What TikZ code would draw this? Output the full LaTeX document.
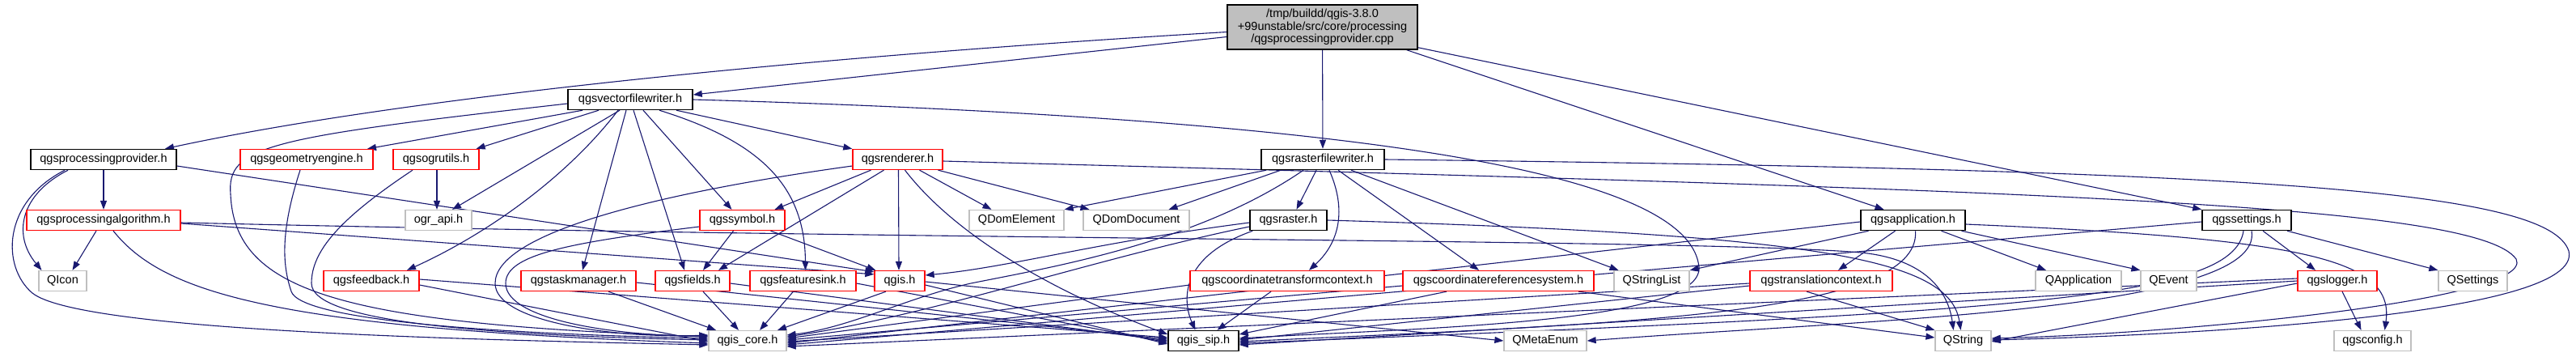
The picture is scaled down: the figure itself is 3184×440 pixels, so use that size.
\documentclass[tikz,border=0pt]{standalone}
\usepackage{fontspec}
\setmainfont{Liberation Sans}
\usetikzlibrary{arrows.meta}
\definecolor{Edge}{HTML}{191970}
\definecolor{DoxRed}{HTML}{FF0000}
\definecolor{DoxGray}{HTML}{BFBFBF}
\newcommand{\graphfont}{\fontsize{14.5pt}{15.5pt}\selectfont}
\pgfdeclarelayer{bg}
\pgfsetlayers{bg,main}
\tikzset{
  header/.style={
    draw=black, line width=1.5pt, fill=white, inner sep=0pt,
    minimum height=25pt, font=\graphfont
  },
  trunc/.style={header, draw=DoxRed, line width=1.3pt},
  system/.style={header, draw=DoxGray, line width=1.3pt},
  srcfile/.style={header, fill=DoxGray, align=center, minimum height=55pt},
  incl/.style={-{Triangle[length=11pt,width=8pt]}, line width=1.1pt, draw=Edge}
}

\begin{document}
\begin{tikzpicture}[x=1pt,y=-1pt]
    \useasboundingbox (0,0) rectangle (3184,440);
    \node[srcfile, minimum width=235pt] (cpp) at (1634.5,33.5) {/tmp/buildd/qgis-3.8.0\\+99unstable/src/core/processing\\/qgsprocessingprovider.cpp};
    \node[header, minimum width=154pt] (vfw) at (779,123) {qgsvectorfilewriter.h};
    \node[header, minimum width=180pt] (provider) at (128,197) {qgsprocessingprovider.h};
    \node[trunc, minimum width=164pt] (geom) at (379,197) {qgsgeometryengine.h};
    \node[trunc, minimum width=106pt] (ogru) at (539,197) {qgsogrutils.h};
    \node[trunc, minimum width=111pt] (rend) at (1109.5,197) {qgsrenderer.h};
    \node[header, minimum width=152pt] (rfw) at (1635,197) {qgsrasterfilewriter.h};
    \node[trunc, minimum width=190pt] (palg) at (128,272) {qgsprocessingalgorithm.h};
    \node[system, minimum width=82pt] (ograpi) at (542,272) {ogr\_api.h};
    \node[trunc, minimum width=105pt] (symb) at (917.5,272) {qgssymbol.h};
    \node[system, minimum width=117pt] (qdomel) at (1256.5,272) {QDomElement};
    \node[system, minimum width=131pt] (qdomdoc) at (1404.5,272) {QDomDocument};
    \node[header, minimum width=95pt] (rast) at (1592.5,272) {qgsraster.h};
    \node[header, minimum width=129pt] (app) at (2364.5,272) {qgsapplication.h};
    \node[header, minimum width=110pt] (sett) at (2777,272) {qgssettings.h};
    \node[system, minimum width=59pt] (qicon) at (77.5,347) {QIcon};
    \node[trunc, minimum width=118pt] (feed) at (459,347) {qgsfeedback.h};
    \node[trunc, minimum width=142pt] (task) at (715,347) {qgstaskmanager.h};
    \node[trunc, minimum width=92pt] (fld) at (856,347) {qgsfields.h};
    \node[trunc, minimum width=131pt] (fsink) at (992.5,347) {qgsfeaturesink.h};
    \node[trunc, minimum width=62pt] (qgis) at (1112,347) {qgis.h};
    \node[trunc, minimum width=240pt] (ctc) at (1591,347) {qgscoordinatetransformcontext.h};
    \node[trunc, minimum width=236pt] (crs) at (1852,347) {qgscoordinatereferencesystem.h};
    \node[system, minimum width=93pt] (qsl) at (2041.5,347) {QStringList};
    \node[trunc, minimum width=176pt] (trctx) at (2251,347) {qgstranslationcontext.h};
    \node[system, minimum width=106pt] (qapp) at (2569,347) {QApplication};
    \node[system, minimum width=69pt] (qevt) at (2680.5,347) {QEvent};
    \node[trunc, minimum width=98pt] (logr) at (2889,347) {qgslogger.h};
    \node[system, minimum width=85pt] (qset) at (3056.5,347) {QSettings};
    \node[system, minimum width=96pt] (core) at (924,421) {qgis\_core.h};
    \node[header, minimum width=87pt] (sip) at (1487.5,421) {qgis\_sip.h};
    \node[system, minimum width=102pt] (qme) at (1910,421) {QMetaEnum};
    \node[system, minimum width=69pt] (qstr) at (2426.5,421) {QString};
    \node[system, minimum width=95pt] (qcfg) at (2932.5,421) {qgsconfig.h};
    \begin{pgfonlayer}{bg}
    \fill[white] (0,0) rectangle (3184,440);
    \draw[incl] ([yshift=-6pt]cpp.west) .. controls (1000,70) and (500,120) .. ([xshift=76pt]provider.north);
    \draw[incl] ([yshift=-12pt]cpp.west) -- ([yshift=6pt]vfw.east);
    \draw[incl] (cpp) -- (rfw);
    \draw[incl] ([xshift=-14pt]cpp.south east) -- ([xshift=-36pt]app.north);
    \draw[incl] ([yshift=3pt]cpp.south east) -- (sett.north west);
    \draw[incl] ([yshift=-5pt]vfw.west) .. controls (330,170) and (280,180) .. (285,240) .. controls (290,360) and (420,400) .. ([yshift=5pt]core.west);
    \draw[incl] ([xshift=-59pt]vfw.south) -- ([xshift=75pt]geom.north);
    \draw[incl] ([xshift=-39pt]vfw.south) -- ([xshift=-4pt]ogru.north east);
    \draw[incl] ([xshift=-13pt]vfw.south) -- ([xshift=17pt]ograpi.north);
    \draw[incl] ([xshift=-15pt]vfw.south) .. controls (700,220) and (600,290) .. ([xshift=44pt]feed.north);
    \draw[incl] ([xshift=-5pt]vfw.south) -- ([xshift=5pt]task.north);
    \draw[incl] ([xshift=4pt]vfw.south) -- ([xshift=-10pt]fld.north);
    \draw[incl] ([xshift=16pt]vfw.south) -- ([xshift=-13pt]symb.north);
    \draw[incl] ([xshift=36pt]vfw.south) .. controls (940,175) and (995,230) .. ([xshift=3pt]fsink.north);
    \draw[incl] ([xshift=57pt]vfw.south) -- (rend.north west);
    \draw[incl] (vfw.east) .. controls (1800,150) and (2090,230) .. (2100,330) .. controls (2105,400) and (1750,405) .. ([yshift=3pt]sip.east);
    \draw[incl] ([xshift=-44pt]provider.south) .. controls (25,240) and (15,290) .. ([xshift=-26pt]qicon.north);
    \draw[incl] ([xshift=-48pt]provider.south) .. controls (2,250) and (2,330) .. (40,362) .. controls (100,410) and (600,420) .. ([yshift=-5pt]core.west);
    \draw[incl] (provider) -- (palg);
    \draw[incl] ([yshift=-8pt]provider.east) -- ([yshift=-2pt]qgis.north west);
    \draw[incl] ([xshift=-9pt]palg.south) -- ([xshift=12pt]qicon.north);
    \draw[incl] ([xshift=12pt]palg.south) .. controls (200,360) and (330,405) .. ([yshift=-3pt]core.west);
    \draw[incl] ([yshift=-4pt]palg.east) -- ([yshift=-5pt]qgis.north west);
    \draw[incl] ([yshift=-3pt]palg.east) .. controls (1200,298) and (2100,295) .. (2300,312) .. controls (2380,320) and (2408,360) .. ([xshift=-12pt]qstr.north);
    \draw[incl] ([xshift=-8pt]geom.south) .. controls (345,290) and (350,330) .. (360,360) .. controls (372,395) and (600,412) .. ([yshift=3pt]core.west);
    \draw[incl] ([xshift=1pt]ogru.south) -- ([xshift=-2pt]ograpi.north);
    \draw[incl] ([xshift=-29pt]ogru.south) .. controls (420,270) and (385,310) .. (385,350) .. controls (385,398) and (600,414) .. ([yshift=1pt]core.west);
    \draw[incl] ([yshift=-5pt]feed.east) -- ([yshift=-1pt]core.west);
    \draw[incl] ([yshift=2pt]feed.east) -- ([yshift=4pt]sip.west);
    \draw[incl] ([xshift=37pt]task.south) -- ([xshift=-39pt]core.north);
    \draw[incl] ([yshift=-2pt]task.east) -- ([yshift=2pt]sip.west);
    \draw[incl] ([xshift=13pt]fld.south) -- ([xshift=-11pt]core.north);
    \draw[incl] ([yshift=-3pt]fld.east) -- (sip.west);
    \draw[incl] ([xshift=-12pt]fsink.south) -- ([xshift=15pt]core.north);
    \draw[incl] ([yshift=-3pt]fsink.east) -- ([yshift=-2pt]sip.west);
    \draw[incl] ([xshift=-11pt]symb.south) -- ([xshift=13pt]fld.north);
    \draw[incl] ([xshift=35pt]symb.south) -- ([xshift=2pt]qgis.north west);
    \draw[incl] ([yshift=-8pt]symb.west) .. controls (700,300) and (625,315) .. (625,350) .. controls (625,395) and (760,415) .. ([yshift=6pt]core.west);
    \draw[incl] ([yshift=-8pt]rend.west) .. controls (800,240) and (612,290) .. (612,350) .. controls (612,398) and (760,418) .. ([yshift=7pt]core.west);
    \draw[incl] ([xshift=-33pt]rend.south) -- ([xshift=40pt]symb.north);
    \draw[incl] ([xshift=-17pt]rend.south) -- ([xshift=32pt]fld.north);
    \draw[incl] ([xshift=1pt]rend.south) -- ([xshift=-1pt]qgis.north);
    \draw[incl] ([xshift=9pt]rend.south) .. controls (1180,290) and (1300,360) .. ([yshift=8pt]sip.west);
    \draw[incl] ([xshift=27pt]rend.south) -- ([xshift=-31pt]qdomel.north);
    \draw[incl] ([xshift=50pt]rend.south) -- ([xshift=-58pt]qdomdoc.north);
    \draw[incl] ([yshift=-2pt]rend.east) .. controls (2500,235) and (3060,250) .. (3110,320) .. controls (3135,370) and (2700,412) .. ([yshift=3pt]qstr.east);
    \draw[incl] ([xshift=-70pt]rfw.south) -- (qdomel.north east);
    \draw[incl] ([xshift=-52pt]rfw.south) -- ([xshift=40pt]qdomdoc.north);
    \draw[incl] ([xshift=-24pt]rfw.south) .. controls (1480,300) and (1300,330) .. (1200,350) .. controls (1120,368) and (1050,405) .. ([yshift=7pt]core.east);
    \draw[incl] ([xshift=-8pt]rfw.south) -- ([xshift=10pt]rast.north);
    \draw[incl] ([xshift=8pt]rfw.south) .. controls (1665,260) and (1655,300) .. ([xshift=27pt]ctc.north);
    \draw[incl] ([xshift=19pt]rfw.south) -- ([xshift=-24pt]crs.north);
    \draw[incl] ([xshift=35pt]rfw.south) -- ([xshift=-41pt]qsl.north);
    \draw[incl] (rfw.east) .. controls (2800,210) and (3150,235) .. (3175,310) .. controls (3195,390) and (2700,414) .. ([yshift=1pt]qstr.east);
    \draw[incl] ([yshift=-8pt]rast.west) .. controls (1350,320) and (1150,390) .. ([yshift=5pt]core.east);
    \draw[incl] ([yshift=-3pt]rast.west) .. controls (1350,300) and (1250,330) .. ([yshift=7pt]qgis.east);
    \draw[incl] ([xshift=4pt]rast.south west) .. controls (1450,320) and (1465,380) .. ([xshift=-10pt]sip.north);
    \draw[incl] (rast.east) .. controls (2250,290) and (2410,320) .. ([xshift=-3pt]qstr.north);
    \draw[incl] ([yshift=-5pt]ctc.west) -- ([yshift=3pt]core.east);
    \draw[incl] ([xshift=-20pt]ctc.south) -- ([xshift=17pt]sip.north);
    \draw[incl] ([yshift=-6pt]crs.west) -- ([yshift=1pt]core.east);
    \draw[incl] ([xshift=-64pt]crs.south) -- ([yshift=8pt]sip.east);
    \draw[incl] ([xshift=99pt]crs.south) -- ([yshift=4pt]qstr.west);
    \draw[incl] ([xshift=-17pt]qgis.south) -- ([xshift=37pt]core.north);
    \draw[incl] ([yshift=-5pt]qgis.east) -- ([yshift=-4pt]sip.west);
    \draw[incl] ([yshift=-1pt]qgis.east) -- (qme.west);
    \draw[incl] ([yshift=-3pt]trctx.west) -- ([yshift=-1pt]core.east);
    \draw[incl] ([yshift=-6pt]trctx.west) -- ([yshift=1pt]sip.east);
    \draw[incl] ([xshift=-18pt]trctx.south) -- (qstr.north west);
    \draw[incl] ([yshift=-2pt]app.west) -- ([yshift=-3pt]core.east);
    \draw[incl] ([xshift=-55pt]app.south) -- (qsl.north east);
    \draw[incl] ([xshift=-22pt]app.south) -- ([xshift=21pt]trctx.north);
    \draw[incl] ([xshift=3pt]app.south) .. controls (2375,390) and (2000,400) .. ([yshift=-1pt]sip.east);
    \draw[incl] ([xshift=35pt]app.south) -- ([xshift=-40pt]qapp.north);
    \draw[incl] ([xshift=60pt]app.south) -- (qevt.north west);
    \draw[incl] ([yshift=-5pt]app.east) .. controls (2850,295) and (2960,320) .. ([xshift=15pt]qcfg.north);
    \draw[incl] ([yshift=-2pt]sett.west) -- ([yshift=-5pt]core.east);
    \draw[incl] ([xshift=-4pt]sett.south) .. controls (2760,370) and (2500,385) .. ([yshift=-3pt]sip.east);
    \draw[incl] ([xshift=6pt]sett.south) .. controls (2800,385) and (2300,395) .. (qme.east);
    \draw[incl] ([xshift=20pt]sett.south) -- ([xshift=-27pt]logr.north);
    \draw[incl] ([xshift=50pt]sett.south) -- (qset.north west);
    \draw[incl] ([yshift=3pt]logr.west) -- ([yshift=-7pt]core.east);
    \draw[incl] (logr.west) -- ([yshift=-5pt]sip.east);
    \draw[incl] ([yshift=-3pt]logr.west) -- ([yshift=-1pt]qstr.east);
    \draw[incl] ([xshift=6pt]logr.south) -- ([xshift=-14pt]qcfg.north);
    \end{pgfonlayer}
  \end{tikzpicture}
\end{document}
